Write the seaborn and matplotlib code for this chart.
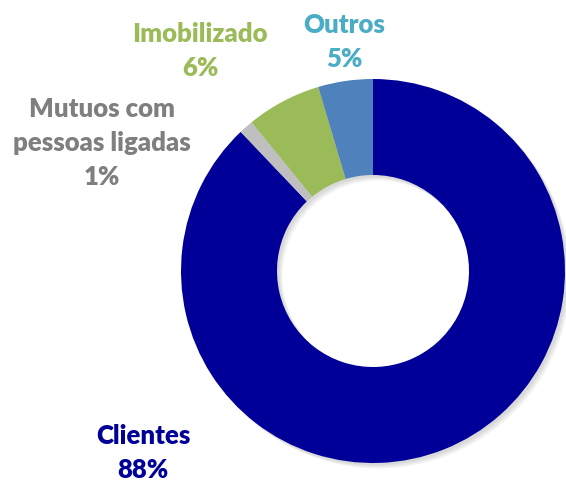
import matplotlib
matplotlib.use("Agg")
import matplotlib.pyplot as plt
import seaborn as sns

sns.set_theme(style="white")
plt.rcParams['font.family'] = ['Lato', 'DejaVu Sans']

# data (clockwise from 12 o'clock)
categorias = ["Clientes", "Mutuos com\npessoas ligadas", "Imobilizado", "Outros"]
valores = [87.9, 1.2, 6.3, 4.6]
cores_fatia = sns.color_palette(["#000099", "#BFBFBF", "#9BBB59", "#4F81BD"])
cores_texto = ["#000099", "#7F7F7F", "#9BBB59", "#4BACC6"]

fig = plt.figure(figsize=(5.66, 4.81), dpi=100)
# donut: center (373,272) px, radius 192 px
ax = fig.add_axes([(373 - 192) / 566, (481 - 272 - 192) / 481, 384 / 566, 384 / 481])

# soft shadow: a few faint grey rings offset down-right
for k, off in enumerate([0.028, 0.020, 0.012]):
    ax.pie([sum(valores)], colors=["#000000"], startangle=90, radius=1,
           center=(off, -off), wedgeprops=dict(width=0.5, edgecolor="none", alpha=0.05))

ax.pie(valores, colors=cores_fatia, startangle=90, counterclock=False,
       radius=1, wedgeprops=dict(width=0.5, edgecolor="none"))
ax.set_xlim(-1, 1)
ax.set_ylim(-1, 1)
ax.set_aspect("equal")
ax.axis("off")

# label block centres in px
pos_rotulos = [(143, 453), (102, 143), (200, 51), (344, 42)]
for cat, v, cor, (px, py) in zip(categorias, valores, cores_texto, pos_rotulos):
    txt = f"{cat}\n{v:.0f}%"
    fig.text(px / 566, 1 - py / 481, txt, ha="center", va="center",
             color=cor, fontsize=18.5, fontweight="heavy", linespacing=1.5)

fig.savefig("out.png", dpi=100)
